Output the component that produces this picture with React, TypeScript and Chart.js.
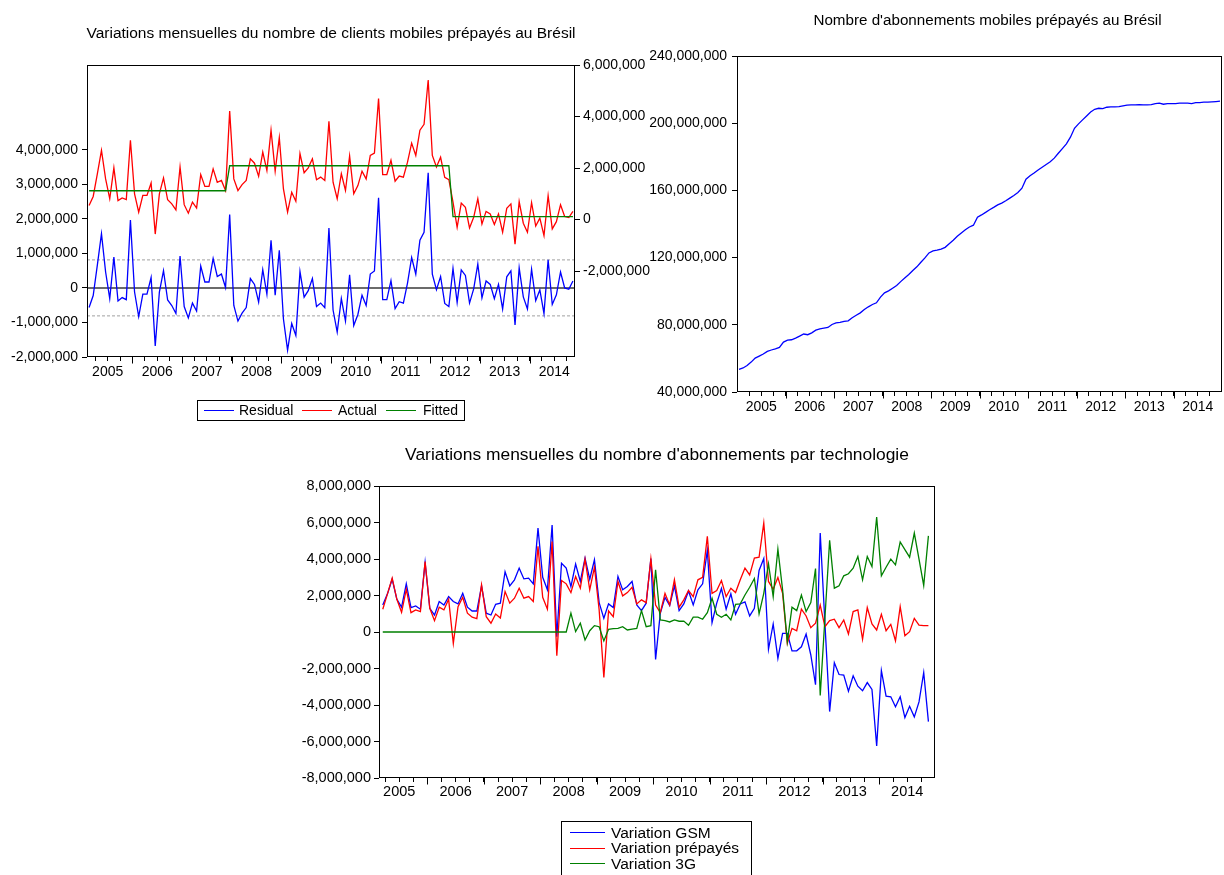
import React, { useEffect, useRef } from 'react';
import { Chart, registerables } from 'chart.js';

Chart.register(...registerables);

const FONT = '"Liberation Sans", Arial, Helvetica, sans-serif';
const M = 1000000;

// Time axis: month index, 0 = January 2005 ... 119 = December 2014
const YEARS = ['2005', '2006', '2007', '2008', '2009', '2010', '2011', '2012', '2013', '2014'];

// ---------- Chart 1 : Residual / Actual / Fitted (millions), first obs = Feb 2005
const TITLE1 = 'Variations mensuelles du nombre de clients mobiles prépayés au Brésil';
const REG_START = 1;
const ACTUAL = [
  0.55, 0.90, 1.78, 2.69, 1.58, 0.81, 2.01, 0.74, 0.84, 0.78, 3.08,
  1.00, 0.29, 0.94, 0.94, 1.42, -0.56, 1.00, 1.62, 0.77, 0.61, 0.38, 2.04,
  0.58, 0.25, 0.68, 0.45, 1.75, 1.29, 1.29, 1.97, 1.45, 1.52, 1.13, 4.21,
  1.58, 1.13, 1.36, 1.52, 2.36, 2.19, 1.68, 2.62, 1.91, 3.47, 1.88, 3.18,
  1.19, 0.29, 1.06, 0.71, 2.56, 1.82, 2.01, 2.36, 1.55, 1.65, 1.52, 3.82,
  1.45, 0.81, 1.78, 1.13, 2.47, 1.00, 1.32, 1.88, 1.58, 2.49, 2.58, 4.70,
  1.75, 1.75, 2.30, 1.49, 1.69, 1.65, 2.23, 2.97, 2.49, 3.47, 3.70, 5.42,
  2.49, 2.04, 2.42, 1.64, 1.55, 0.68, -0.30, 0.64, 0.48, -0.32, 0.09, 0.81,
  -0.17, 0.32, 0.22, -0.19, 0.22, -0.49, 0.44, 0.61, -0.95, 0.70, -0.14, -0.49,
  0.66, -0.25, 0.06, -0.62, 0.93, -0.36, -0.08, 0.58, 0.12, 0.08, 0.32,
];
const FITTED = [
  1.12, 1.12, 1.12, 1.12, 1.12, 1.12, 1.12, 1.12, 1.12, 1.12, 1.12,
  1.12, 1.12, 1.12, 1.12, 1.12, 1.12, 1.12, 1.12, 1.12, 1.12, 1.12, 1.12,
  1.12, 1.12, 1.12, 1.12, 1.12, 1.12, 1.12, 1.12, 1.12, 1.12, 1.12, 2.09,
  2.09, 2.09, 2.09, 2.09, 2.09, 2.09, 2.09, 2.09, 2.09, 2.09, 2.09, 2.09,
  2.09, 2.09, 2.09, 2.09, 2.09, 2.09, 2.09, 2.09, 2.09, 2.09, 2.09, 2.09,
  2.09, 2.09, 2.09, 2.09, 2.09, 2.09, 2.09, 2.09, 2.09, 2.09, 2.09, 2.09,
  2.09, 2.09, 2.09, 2.09, 2.09, 2.09, 2.09, 2.09, 2.09, 2.09, 2.09, 2.09,
  2.09, 2.09, 2.09, 2.09, 2.09, 0.12, 0.12, 0.12, 0.12, 0.12, 0.12, 0.12,
  0.12, 0.12, 0.12, 0.12, 0.12, 0.12, 0.12, 0.12, 0.12, 0.12, 0.12, 0.12,
  0.12, 0.12, 0.12, 0.12, 0.12, 0.12, 0.12, 0.12, 0.12, 0.12, 0.12,
];
const RESIDUAL = [
  -0.57, -0.22, 0.66, 1.57, 0.46, -0.31, 0.89, -0.38, -0.28, -0.34, 1.96,
  -0.12, -0.83, -0.18, -0.18, 0.30, -1.68, -0.12, 0.50, -0.35, -0.51, -0.74, 0.92,
  -0.54, -0.87, -0.44, -0.67, 0.63, 0.17, 0.17, 0.85, 0.33, 0.40, 0.01, 2.12,
  -0.51, -0.96, -0.73, -0.57, 0.27, 0.10, -0.41, 0.53, -0.18, 1.38, -0.21, 1.09,
  -0.90, -1.80, -1.03, -1.38, 0.47, -0.27, -0.08, 0.27, -0.54, -0.44, -0.57, 1.73,
  -0.64, -1.28, -0.31, -0.96, 0.38, -1.09, -0.77, -0.21, -0.51, 0.40, 0.49, 2.61,
  -0.34, -0.34, 0.21, -0.60, -0.40, -0.44, 0.14, 0.88, 0.40, 1.38, 1.61, 3.33,
  0.40, -0.05, 0.33, -0.45, -0.54, 0.56, -0.42, 0.52, 0.36, -0.44, -0.03, 0.69,
  -0.29, 0.20, 0.10, -0.31, 0.10, -0.61, 0.32, 0.49, -1.07, 0.58, -0.26, -0.61,
  0.54, -0.37, -0.06, -0.74, 0.81, -0.48, -0.20, 0.46, 0.00, -0.04, 0.20,
];
const STD_ERR = 0.81;

// ---------- Chart 2 : prepaid subscriptions level (millions), first obs = Jan 2005
const TITLE2 = "Nombre d'abonnements mobiles prépayés au Brésil";
const LEVEL_START = 0;
const PREPAID_LEVEL = [
  53.5, 54.3, 55.8, 57.8, 60.2, 61.4, 62.6, 64.2, 65.0, 65.7, 66.5, 69.7,
  70.9, 71.1, 72.1, 73.3, 74.5, 74.1, 75.2, 76.8, 77.6, 78.0, 78.4, 80.2,
  81.2, 81.4, 82.0, 82.4, 84.2, 85.7, 87.1, 89.1, 90.7, 92.1, 93.1, 96.5,
  99.0, 100.2, 101.8, 103.4, 105.7, 107.9, 109.9, 112.3, 114.5, 117.2, 119.8, 122.8,
  124.0, 124.4, 125.1, 126.1, 128.3, 130.3, 132.7, 134.7, 136.6, 138.2, 139.3, 144.0,
  145.4, 146.9, 148.5, 149.9, 151.4, 152.4, 153.8, 155.4, 157.0, 158.8, 161.3, 166.7,
  168.7, 170.3, 172.2, 173.8, 175.4, 177.0, 179.2, 182.1, 184.9, 187.7, 191.7, 197.0,
  199.6, 202.0, 204.3, 206.7, 208.3, 208.9, 208.7, 209.5, 209.7, 209.7, 209.9, 210.3,
  210.7, 210.9, 210.9, 211.1, 210.9, 210.9, 211.1, 211.7, 211.9, 211.3, 211.7, 211.7,
  211.7, 211.9, 211.9, 211.9, 211.7, 212.3, 212.3, 212.5, 212.5, 212.7, 212.9, 213.1,
];

// ---------- Chart 3 : monthly variations by technology (millions), first obs = Mar 2005
const TITLE3 = "Variations mensuelles du nombre d'abonnements par technologie";
const TECH_START = 2;
const VAR_GSM = [
  1.48, 2.09, 2.89, 1.79, 1.36, 2.64, 1.34, 1.43, 1.25, 3.81,
  1.30, 0.93, 1.67, 1.48, 1.94, 1.67, 1.54, 2.12, 1.36, 1.15, 1.15, 2.53,
  1.03, 0.93, 1.52, 1.58, 3.30, 2.53, 2.86, 3.50, 2.91, 2.95, 2.64, 5.70,
  3.00, 2.31, 5.86, -0.26, 3.77, 3.50, 2.49, 3.72, 2.77, 4.05, 2.89, 3.96,
  1.61, 0.75, 1.54, 1.34, 3.04, 2.31, 2.49, 2.77, 1.48, 1.17, 1.58, 4.03,
  -1.50, 1.03, 1.90, 1.45, 2.53, 1.17, 1.54, 2.25, 1.48, 2.31, 2.64, 4.47,
  0.51, 1.58, 2.38, 1.25, 2.09, 0.97, 1.54, 1.65, 0.88, 1.30, 3.37, 4.03,
  -0.95, 0.44, -1.45, -0.07, -0.07, -1.03, -1.03, -0.81, -0.11, -1.26, -2.89, 5.42,
  0.48, -4.36, -1.68, -2.33, -2.36, -3.24, -2.40, -2.97, -3.22, -2.77, -3.15, -6.25,
  -2.12, -3.52, -3.55, -4.10, -3.55, -4.69, -4.07, -4.65, -3.83, -2.22, -4.91,
];
const VAR_PREPAID = [
  1.25, 2.09, 2.95, 1.79, 1.08, 2.34, 1.06, 1.21, 1.12, 3.86,
  1.30, 0.62, 1.36, 1.21, 1.79, -0.62, 1.39, 1.90, 1.03, 0.81, 0.73, 2.58,
  0.84, 0.48, 0.99, 0.77, 2.22, 1.58, 1.85, 2.40, 1.85, 1.94, 1.67, 4.69,
  1.90, 1.25, 4.96, -1.30, 2.82, 2.64, 2.16, 3.04, 2.40, 3.99, 2.31, 3.55,
  1.21, -2.49, 1.15, 0.84, 2.77, 1.98, 2.16, 2.45, 1.54, 1.76, 1.61, 4.01,
  1.48, 1.06, 2.12, 1.48, 2.86, 1.36, 1.76, 2.27, 1.94, 2.86, 3.00, 5.24,
  2.12, 2.27, 2.82, 1.94, 2.40, 2.16, 2.86, 3.50, 3.13, 4.05, 4.10, 5.97,
  2.77, 2.34, 2.99, 2.12, -0.62, 0.20, 0.07, 1.25, 0.88, 0.24, 0.48, 1.48,
  0.29, 0.62, 0.70, 0.24, 0.66, -0.11, 1.12, 1.21, -0.40, 1.34, 0.44, 0.11,
  0.97, 0.07, 0.42, -0.48, 1.39, -0.20, 0.02, 0.75, 0.38, 0.35, 0.35,
];
const VAR_3G = [
  0, 0, 0, 0, 0, 0, 0, 0, 0, 0,
  0, 0, 0, 0, 0, 0, 0, 0, 0, 0, 0, 0,
  0, 0, 0, 0, 0, 0, 0, 0, 0, 0, 0, 0,
  0, 0, 0, 0, 0, 0, 1.03, 0.02, 0.48, -0.44, 0.07, 0.35,
  0.29, -0.49, 0.15, 0.18, 0.20, 0.29, 0.11, 0.16, 0.20, 1.17, 0.29, 0.35,
  3.41, 0.66, 0.62, 0.55, 0.66, 0.59, 0.60, 0.37, 0.81, 0.81, 0.70, 1.06,
  1.85, 0.97, 0.81, 0.97, 0.66, 1.52, 1.54, 2.03, 2.45, 2.93, 0.99, 2.12,
  3.74, 1.94, 4.54, 2.31, -0.53, 1.36, 1.17, 2.03, 1.12, 1.61, 3.48, -3.48,
  0.77, 5.02, 2.40, 2.53, 3.08, 3.19, 3.50, 4.14, 2.86, 4.14, 3.59, 6.30,
  3.08, 3.55, 3.99, 3.68, 4.93, 4.51, 4.10, 5.42, 3.99, 2.55, 5.27,
];

// ---------- axis tick positions (month-index units)
const QUARTER_TICKS = Array.from({ length: 39 }, (_, i) => 2.5 + 3 * i);
const YEAR_BOUNDS = Array.from({ length: 9 }, (_, i) => 11.5 + 12 * i);
const YEAR_LABEL_AT = YEARS.map((_, i) => 5.5 + 12 * i);

const fmt = (v: number) => Math.round(v).toLocaleString('en-US');
const pts = (arr: number[], start: number) => arr.map((v, i) => ({ x: start + i, y: v * M }));

const framePlugin = {
  id: 'frame',
  afterDraw(chart: any) {
    const { ctx, chartArea: a } = chart;
    const x0 = Math.round(a.left) + 0.5;
    const x1 = Math.round(a.right) - 0.5;
    const y0 = Math.round(a.top) + 0.5;
    const y1 = Math.round(a.bottom) - 0.5;
    ctx.save();
    ctx.strokeStyle = '#000';
    ctx.lineWidth = 1;
    ctx.strokeRect(x0, y0, x1 - x0, y1 - y0);
    // longer year-boundary ticks
    const xs = chart.scales.x;
    ctx.beginPath();
    YEAR_BOUNDS.forEach((v) => {
      const px = Math.round(xs.getPixelForValue(v)) + 0.5;
      ctx.moveTo(px, y1);
      ctx.lineTo(px, y1 + 7);
    });
    ctx.stroke();
    ctx.restore();
  },
};

const titlePlugin = {
  id: 'ptitle',
  afterDraw(chart: any, _args: any, opts: any) {
    if (!opts || !opts.text) return;
    const { ctx, chartArea: a } = chart;
    ctx.save();
    ctx.font = `${opts.size}px ${FONT}`;
    ctx.fillStyle = '#000';
    ctx.textAlign = 'center';
    ctx.textBaseline = 'middle';
    ctx.fillText(opts.text, (a.left + a.right) / 2 + (opts.dx || 0), opts.y);
    ctx.restore();
  },
};

function xAxis(min: number, max: number, size: number, height: number, padding: number) {
  return {
    type: 'linear',
    position: 'bottom',
    min,
    max,
    afterBuildTicks: (s: any) => {
      s.ticks = QUARTER_TICKS.map((v) => ({ value: v }));
    },
    afterFit: (s: any) => {
      s.height = height;
    },
    grid: { drawOnChartArea: false, drawTicks: true, tickLength: 4, tickColor: '#000', color: '#000' },
    border: { display: false },
    ticks: {
      autoSkip: false,
      maxRotation: 0,
      minRotation: 0,
      padding,
      color: '#000',
      font: { family: FONT, size },
      callback: (v: any) => {
        const i = YEAR_LABEL_AT.indexOf(Number(v));
        return i >= 0 ? YEARS[i] : '';
      },
    },
  };
}

function yAxis(position: string, min: number, max: number, ticks: number[], width: number, size: number, padding: number) {
  return {
    type: 'linear',
    position,
    min,
    max,
    afterBuildTicks: (s: any) => {
      s.ticks = ticks.map((v) => ({ value: v }));
    },
    afterFit: (s: any) => {
      s.width = width;
    },
    grid: { drawOnChartArea: false, drawTicks: true, tickLength: 5, tickColor: '#000', color: '#000' },
    border: { display: false },
    ticks: {
      autoSkip: false,
      padding,
      color: '#000',
      font: { family: FONT, size },
      callback: (v: any) => fmt(Number(v)),
    },
  };
}

const lineDs = (label: string, data: any[], color: string, axis: string, order: number, extra: any = {}) => ({
  label,
  data,
  yAxisID: axis,
  borderColor: color,
  backgroundColor: color,
  borderWidth: 1.3,
  pointRadius: 0,
  tension: 0,
  fill: false,
  order,
  ...extra,
});

const X1_MIN = 0.5;
const X1_MAX = 118.5;

function cfg1(): any {
  return {
    type: 'line',
    data: {
      datasets: [
        lineDs('Fitted', pts(FITTED, REG_START), '#008000', 'yR', 0),
        lineDs('Actual', pts(ACTUAL, REG_START), '#ff0000', 'yR', 1),
        lineDs('Residual', pts(RESIDUAL, REG_START), '#0000ff', 'yL', 2),
        lineDs('zero', [{ x: X1_MIN, y: 0 }, { x: X1_MAX, y: 0 }], '#6b6b6b', 'yL', 3, { borderWidth: 2 }),
        lineDs('+se', [{ x: X1_MIN, y: STD_ERR * M }, { x: X1_MAX, y: STD_ERR * M }], '#a0a0a0', 'yL', 4, { borderWidth: 1, borderDash: [3, 2] }),
        lineDs('-se', [{ x: X1_MIN, y: -STD_ERR * M }, { x: X1_MAX, y: -STD_ERR * M }], '#a0a0a0', 'yL', 4, { borderWidth: 1, borderDash: [3, 2] }),
      ],
    },
    options: {
      responsive: false,
      animation: false,
      events: [],
      layout: { padding: { top: 65, left: 0, right: 0, bottom: 43 } },
      plugins: {
        legend: { display: false },
        tooltip: { enabled: false },
        ptitle: { text: TITLE1, y: 34, size: 15.5 },
      },
      scales: {
        x: xAxis(X1_MIN, X1_MAX, 14, 30, 3),
        yL: yAxis('left', -2 * M, 6.45 * M, [-2, -1, 0, 1, 2, 3, 4].map((v) => v * M), 87, 14, 4),
        yR: yAxis('right', -5.33 * M, 6 * M, [-2, 0, 2, 4, 6].map((v) => v * M), 85, 14, 3),
      },
    },
    plugins: [framePlugin, titlePlugin],
  };
}

function cfg2(): any {
  return {
    type: 'line',
    data: {
      datasets: [lineDs('Prépayés', pts(PREPAID_LEVEL, LEVEL_START), '#0000ff', 'y', 0)],
    },
    options: {
      responsive: false,
      animation: false,
      events: [],
      layout: { padding: { top: 56, left: 0, right: 2, bottom: 8 } },
      plugins: {
        legend: { display: false },
        tooltip: { enabled: false },
        ptitle: { text: TITLE2, y: 21, size: 15.2, dx: 8 },
      },
      scales: {
        x: xAxis(-0.5, 119.5, 14, 30, 3),
        y: yAxis('left', 40 * M, 240 * M, [40, 80, 120, 160, 200, 240].map((v) => v * M), 97, 14, 5),
      },
    },
    plugins: [framePlugin, titlePlugin],
  };
}

function cfg3(): any {
  return {
    type: 'line',
    data: {
      datasets: [
        lineDs('Variation 3G', pts(VAR_3G, TECH_START), '#008000', 'y', 0),
        lineDs('Variation prépayés', pts(VAR_PREPAID, TECH_START), '#ff0000', 'y', 1),
        lineDs('Variation GSM', pts(VAR_GSM, TECH_START), '#0000ff', 'y', 2),
      ],
    },
    options: {
      responsive: false,
      animation: false,
      events: [],
      layout: { padding: { top: 56, left: 0, right: 45, bottom: 65 } },
      plugins: {
        legend: { display: false },
        tooltip: { enabled: false },
        ptitle: { text: TITLE3, y: 25, size: 17.4 },
      },
      scales: {
        x: xAxis(1.2, 119.4, 14.5, 32, 1),
        y: yAxis('left', -8 * M, 8 * M, [-8, -6, -4, -2, 0, 2, 4, 6, 8].map((v) => v * M), 119, 14.5, 3),
      },
    },
    plugins: [framePlugin, titlePlugin],
  };
}

const abs = (left: number, top: number, extra: any = {}) => ({ position: 'absolute' as const, left, top, ...extra });

function LegendLine({ left, top, width, color }: { left: number; top: number; width: number; color: string }) {
  return <div style={abs(left, top, { width, height: 1, background: color })} />;
}

export default function App() {
  const c1 = useRef<HTMLCanvasElement>(null);
  const c2 = useRef<HTMLCanvasElement>(null);
  const c3 = useRef<HTMLCanvasElement>(null);

  useEffect(() => {
    const charts = [
      new Chart(c1.current as HTMLCanvasElement, cfg1()),
      new Chart(c2.current as HTMLCanvasElement, cfg2()),
      new Chart(c3.current as HTMLCanvasElement, cfg3()),
    ];
    return () => charts.forEach((c) => c.destroy());
  }, []);

  const txt = (size: number) => ({ fontFamily: FONT, fontSize: size, color: '#000', whiteSpace: 'nowrap' as const });

  return (
    <div style={{ position: 'absolute', left: 0, top: 0, width: 1224, height: 875, overflow: 'hidden', background: '#fff' }}>
      <canvas ref={c1} width={660} height={430} style={abs(0, 0)} />
      <canvas ref={c2} width={584} height={430} style={abs(640, 0)} />
      <canvas ref={c3} width={720} height={445} style={abs(260, 430)} />

      {/* legend chart 1 */}
      <div style={abs(197, 400, { width: 268, height: 21, border: '1px solid #000', boxSizing: 'border-box' })}>
        <LegendLine left={6} top={9} width={30} color="#0000ff" />
        <div style={abs(41, 0, { ...txt(14), lineHeight: '19px' })}>Residual</div>
        <LegendLine left={104} top={9} width={30} color="#ff0000" />
        <div style={abs(140, 0, { ...txt(14), lineHeight: '19px' })}>Actual</div>
        <LegendLine left={188} top={9} width={30} color="#008000" />
        <div style={abs(225, 0, { ...txt(14), lineHeight: '19px' })}>Fitted</div>
      </div>

      {/* legend chart 3 */}
      <div style={abs(561, 821, { width: 191, height: 60, border: '1px solid #000', boxSizing: 'border-box' })}>
        <LegendLine left={8} top={10} width={35} color="#0000ff" />
        <div style={abs(49, 2, { ...txt(15.5), lineHeight: '17px' })}>Variation GSM</div>
        <LegendLine left={8} top={26} width={35} color="#ff0000" />
        <div style={abs(49, 17, { ...txt(15.5), lineHeight: '17px' })}>Variation prépayés</div>
        <LegendLine left={8} top={41} width={35} color="#008000" />
        <div style={abs(49, 33, { ...txt(15.5), lineHeight: '17px' })}>Variation 3G</div>
      </div>
    </div>
  );
}
